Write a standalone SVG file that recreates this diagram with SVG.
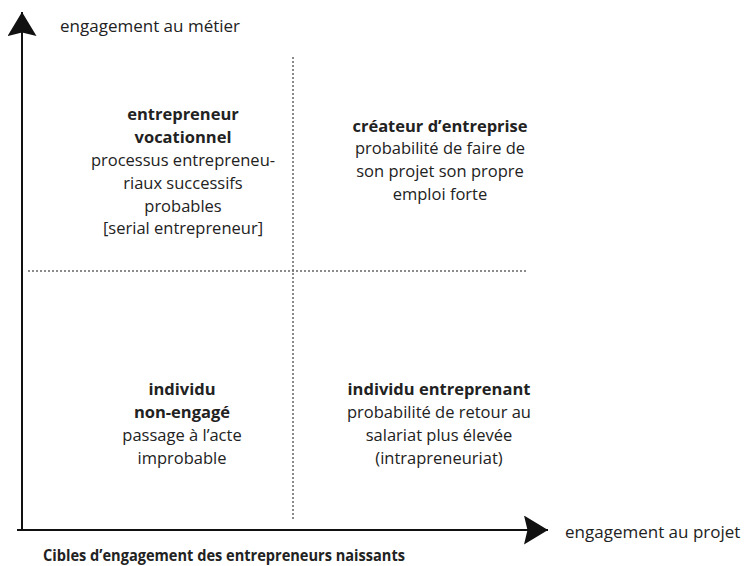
<svg xmlns="http://www.w3.org/2000/svg" width="747" height="566" viewBox="0 0 747 566">
<style>
text{font-family:"Open Sans","Noto Sans",sans-serif;fill:#222;font-size:16.5px}
.ax{font-size:17px}
.cap{font-size:16px;font-weight:bold}
.c{text-anchor:middle}
.b{font-weight:bold}
.axis{stroke:#111;stroke-width:2;fill:none}
.dot{stroke:#666;stroke-width:1.5;stroke-dasharray:2 2;fill:none}
</style>
<defs>
<marker id="ah" viewBox="0 0 24 29" refX="24" refY="14.5" markerWidth="24" markerHeight="29" markerUnits="userSpaceOnUse" orient="auto">
<path d="M0,0 L24,14.5 L0,29 L3.5,14.5 Z" fill="#111"/>
</marker>
</defs>
<rect width="747" height="566" fill="#fff"/>
<g id="connectors">
<path class="axis" d="M22,531 L22,12" marker-end="url(#ah)"/>
<path class="axis" d="M17,530 L548,530" marker-end="url(#ah)"/>
<path class="dot" d="M293,57 L293,520"/>
<path class="dot" d="M28,271 L527,271"/>
</g>
<g id="axis-y-label"><text class="ax" x="60" y="32">engagement au métier</text></g>
<g id="axis-x-label"><text class="ax" x="565" y="538">engagement au projet</text></g>
<g id="caption"><text class="cap" x="43" y="561" textLength="362" lengthAdjust="spacingAndGlyphs">Cibles d’engagement des entrepreneurs naissants</text></g>
<g id="entrepreneur-vocationnel">
<text class="c b" x="183" y="120">entrepreneur</text>
<text class="c b" x="183" y="143">vocationnel</text>
<text class="c" x="183" y="166">processus entrepreneu-</text>
<text class="c" x="183" y="189">riaux successifs</text>
<text class="c" x="183" y="212">probables</text>
<text class="c" x="183" y="234">[serial entrepreneur]</text>
</g>
<g id="createur-entreprise">
<text class="c b" x="440" y="132">créateur d’entreprise</text>
<text class="c" x="440" y="154">probabilité de faire de</text>
<text class="c" x="440" y="177">son projet son propre</text>
<text class="c" x="440" y="200">emploi forte</text>
</g>
<g id="individu-non-engage">
<text class="c b" x="182" y="395">individu</text>
<text class="c b" x="182" y="418">non-engagé</text>
<text class="c" x="182" y="441">passage à l’acte</text>
<text class="c" x="182" y="464">improbable</text>
</g>
<g id="individu-entreprenant">
<text class="c b" x="439" y="395">individu entreprenant</text>
<text class="c" x="439" y="418">probabilité de retour au</text>
<text class="c" x="439" y="441">salariat plus élevée</text>
<text class="c" x="439" y="464">(intrapreneuriat)</text>
</g>
</svg>
